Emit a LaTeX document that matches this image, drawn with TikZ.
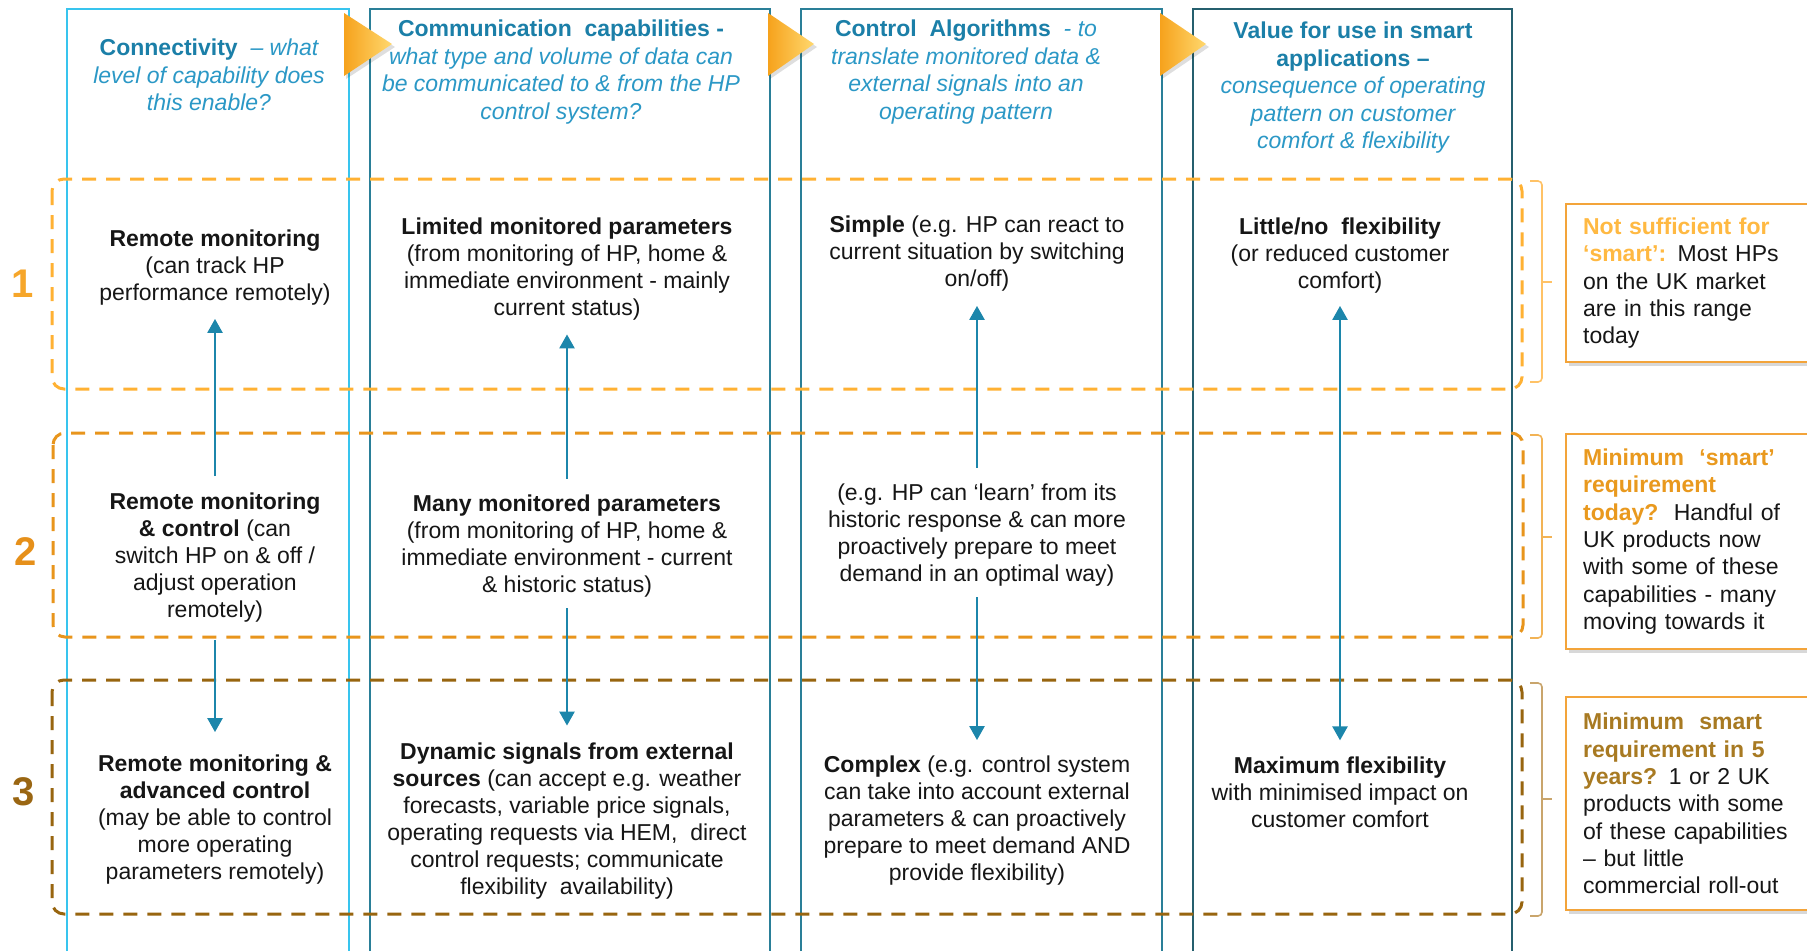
\documentclass[tikz,border=0pt]{standalone}
\usepackage{fontspec}
\setmainfont{Liberation Sans}
\usetikzlibrary{arrows.meta,shadows}

\definecolor{colA}{HTML}{38C4EE}
\definecolor{colB}{HTML}{2A7F98}
\definecolor{colC}{HTML}{255F6E}
\definecolor{hdrb}{HTML}{1B7FA8}
\definecolor{hdri}{HTML}{2B98C6}
\definecolor{bodyc}{HTML}{161616}
\definecolor{flowc}{HTML}{1C86AB}
\definecolor{row1c}{HTML}{FFB133}
\definecolor{row2c}{HTML}{E8951C}
\definecolor{row3c}{HTML}{98650F}
\definecolor{num1}{HTML}{F6A62A}
\definecolor{num2}{HTML}{E6901A}
\definecolor{num3}{HTML}{9A6612}
\definecolor{brk1}{HTML}{FFC266}
\definecolor{brk2}{HTML}{F2B355}
\definecolor{brk3}{HTML}{C9A56C}
\definecolor{boxc}{HTML}{F3A43A}
\definecolor{lab1}{HTML}{FFB942}
\definecolor{lab2}{HTML}{E9991E}
\definecolor{lab3}{HTML}{A87A22}
\definecolor{chevL}{HTML}{F6A21C}
\definecolor{chevR}{HTML}{FFD86E}

\newcommand{\hdrit}[1]{\textcolor{hdri}{\itshape #1}}

\begin{document}
\begin{tikzpicture}[x=1pt,y=-1pt,
  txt/.style={inner sep=0pt, align=center, text=bodyc, font=\fontsize{23}{27}\selectfont},
  hdr/.style={inner sep=0pt, align=center, text=hdrb, font=\fontsize{23}{27.5}\selectfont},
  colframe/.style={line width=2pt},
  rowbox/.style={line width=3pt, rounded corners=12pt, dash pattern=on 14pt off 10pt},
  flow/.style={draw=flowc, line width=2.5pt, -{Triangle[width=15pt,length=14pt]}},
  bothflow/.style={draw=flowc, line width=2.5pt, {Triangle[width=15pt,length=14pt]}-{Triangle[width=15pt,length=14pt]}},
  bracket/.style={line width=1.6pt, rounded corners=4pt},
  rownum/.style={inner sep=0pt, font=\fontsize{40}{40}\selectfont\bfseries},
  note/.style={draw=boxc, line width=2.2pt, fill=white, inner xsep=17pt, inner ysep=0pt,
    text width=231pt, align=left, anchor=north west, text=bodyc,
    font=\fontsize{23}{27.3}\selectfont,
    drop shadow={opacity=0.3, shadow xshift=3pt, shadow yshift=-4pt}},
  chev/.style={left color=chevL, right color=chevR}
]
\useasboundingbox (0,0) rectangle (1807,951);
\fill[white] (0,0) rectangle (1807,951);

% column frames, open at the bottom
\draw[colframe, draw=colA] (67,951) -- (67,9) -- (349,9) -- (349,951);
\draw[colframe, draw=colB] (370,951) -- (370,9) -- (770,9) -- (770,951);
\draw[colframe, draw=colB] (801,951) -- (801,9) -- (1162,9) -- (1162,951);
\draw[colframe, draw=colC] (1193,951) -- (1193,9) -- (1512,9) -- (1512,951);

% chevrons between the column heads
\foreach \a/\b in {344/392, 768/814, 1160/1206} {
  \fill[black, opacity=0.13] ({\a+2},16) -- ({\b+3},47) -- ({\a+2},79) -- cycle;
  \shade[chev] (\a,13) -- (\b,44) -- (\a,76) -- cycle;
}

% column headings
\node[hdr] (h1) at (209,75) {\textbf{Connectivity}\ \ \hdrit{– what}\\\hdrit{level of capability does}\\\hdrit{this enable?}};
\node[hdr] (h2) at (561,72) {\textbf{Communication\ \ capabilities -}\\\hdrit{what type and volume of data can}\\\hdrit{be communicated to \& from the HP}\\\hdrit{control system?}};
\node[hdr] (h3) at (966,72) {\textbf{Control\ \ Algorithms}\ \ \hdrit{- to}\\\hdrit{translate monitored data \&}\\\hdrit{external signals into an}\\\hdrit{operating pattern}};
\node[hdr] (h4) at (1353,88) {\textbf{Value for use in smart}\\\textbf{applications –}\\\hdrit{consequence of operating}\\\hdrit{pattern on customer}\\\hdrit{comfort \& flexibility}};

% level bands
\draw[rowbox, draw=row1c] (52,179) rectangle (1522,389);
\draw[rowbox, draw=row2c] (53,433) rectangle (1523,637);
\draw[rowbox, draw=row3c] (52,680) rectangle (1522,914);

\node[rownum, text=num1] (r1) at (23,284) {1};
\node[rownum, text=num2] (r2) at (26,552) {2};
\node[rownum, text=num3] (r3) at (24,792) {3};

% brackets to the notes
\draw[bracket, draw=brk1] (1530,181) -- (1542,181) -- (1542,382) -- (1530,382);
\draw[bracket, draw=brk1] (1542,282) -- (1552,282);
\draw[bracket, draw=brk2] (1530,435) -- (1542,435) -- (1542,638) -- (1530,638);
\draw[bracket, draw=brk2] (1542,537) -- (1552,537);
\draw[bracket, draw=brk3] (1530,683) -- (1542,683) -- (1542,916) -- (1530,916);
\draw[bracket, draw=brk3] (1542,799) -- (1552,799);

% cells
\node[txt] (c11) at (215,268) {\textbf{Remote monitoring}\\(can track HP\\performance remotely)};
\node[txt] (c21) at (215,558) {\textbf{Remote monitoring}\\\textbf{\& control} (can\\switch HP on \& off /\\adjust operation\\remotely)};
\node[txt] (c31) at (215,820) {\textbf{Remote monitoring \&}\\\textbf{advanced control}\\(may be able to control\\more operating\\parameters remotely)};

\node[txt] (c12) at (567,269) {\textbf{Limited monitored parameters}\\(from monitoring of HP, home \&\\immediate environment - mainly\\current status)};
\node[txt] (c22) at (567,546) {\textbf{Many monitored parameters}\\(from monitoring of HP, home \&\\immediate environment - current\\\& historic status)};
\node[txt] (c32) at (567,821) {\textbf{Dynamic signals from external}\\\textbf{sources} (can accept e.g. weather\\forecasts, variable price signals,\\operating requests via HEM,\ \ direct\\control requests; communicate\\flexibility\ \ availability)};

\node[txt] (c13) at (977,254) {\textbf{Simple} (e.g. HP can react to\\current situation by switching\\on/off)};
\node[txt] (c23) at (977,535) {(e.g. HP can ‘learn’ from its\\historic response \& can more\\proactively prepare to meet\\demand in an optimal way)};
\node[txt] (c33) at (977,821) {\textbf{Complex} (e.g. control system\\can take into account external\\parameters \& can proactively\\prepare to meet demand AND\\provide flexibility)};

\node[txt] (c14) at (1340,256) {\textbf{Little/no\ \ flexibility}\\(or reduced customer\\comfort)};
\node[txt] (c34) at (1340,792) {\textbf{Maximum flexibility}\\with minimised impact on\\customer comfort};

% progression arrows
\draw[flow, shorten <=17pt, shorten >=13pt] (c21.north) -- (c11.south);
\draw[flow, shorten <=17pt, shorten >=23pt] (c21.south) -- (c31.north);
\draw[flow, shorten <=16pt, shorten >=14pt] (c22.north) -- (c12.south);
\draw[flow, shorten <=11pt, shorten >=17pt] (c22.south) -- (c32.north);
\draw[flow, shorten <=16pt, shorten >=14pt] (c23.north) -- (c13.south);
\draw[flow, shorten <=11pt, shorten >=16pt] (c23.south) -- (c33.north);
\draw[bothflow, shorten <=12pt, shorten >=16pt] (c14.south) -- (c34.north);

% notes on the right
\node[note, minimum height=158pt] (n1) at (1565,203) {\textcolor{lab1}{\textbf{Not sufficient for}}\\\textcolor{lab1}{\textbf{‘smart’:}} Most HPs\\on the UK market\\are in this range\\today};
\node[note, minimum height=215pt] (n2) at (1565,433) {\textcolor{lab2}{\textbf{Minimum\ \ ‘smart’}}\\\textcolor{lab2}{\textbf{requirement}}\\\textcolor{lab2}{\textbf{today?}}\ \ Handful of\\UK products now\\with some of these\\capabilities - many\\moving towards it};
\node[note, minimum height=213pt] (n3) at (1565,696) {\textcolor{lab3}{\textbf{Minimum\ \ smart}}\\\textcolor{lab3}{\textbf{requirement in 5}}\\\textcolor{lab3}{\textbf{years?}} 1 or 2 UK\\products with some\\of these capabilities\\– but little\\commercial roll-out};
\end{tikzpicture}
\end{document}
